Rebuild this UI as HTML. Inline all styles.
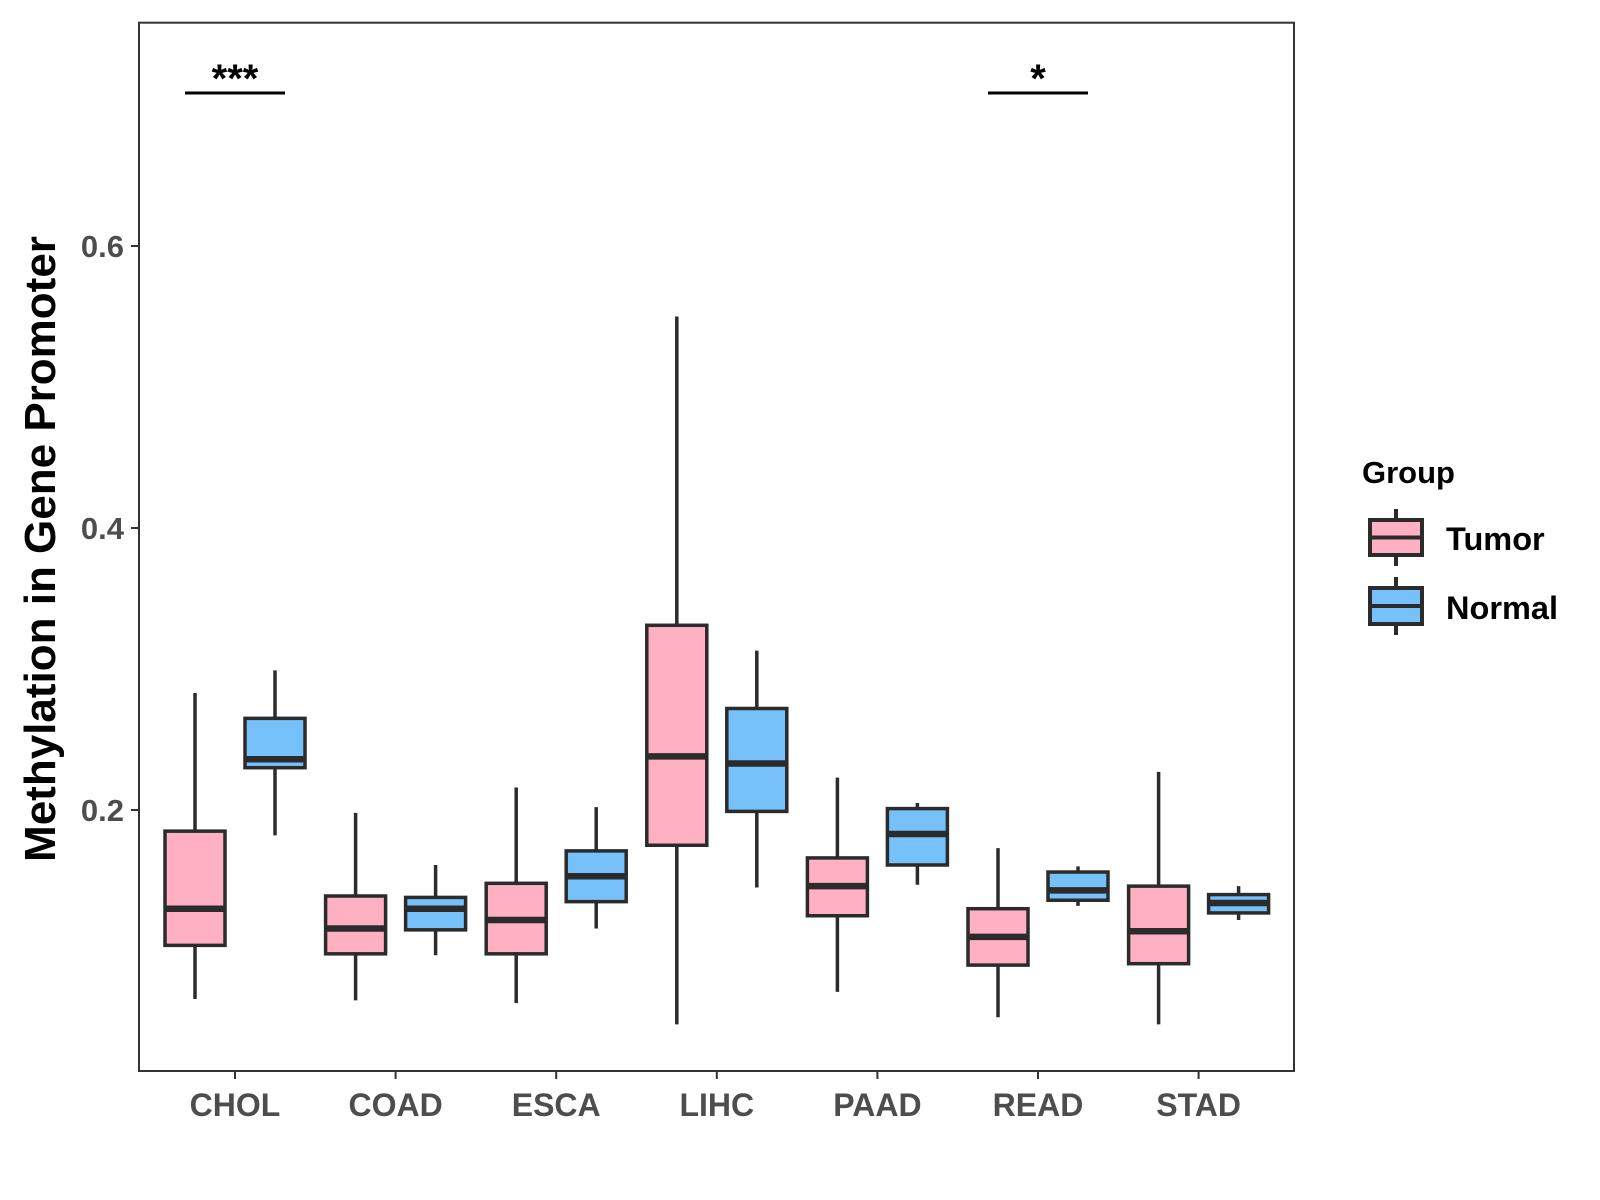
<!DOCTYPE html>
<html><head><meta charset="utf-8"><style>
html,body{margin:0;padding:0;background:#fff;}
svg{display:block;font-family:"Liberation Sans",Arial,sans-serif;font-weight:bold;}
</style></head><body>
<svg id="chart" width="1600" height="1200" viewBox="0 0 1600 1200">
<rect x="139" y="22.7" width="1155" height="1048.3" fill="#fff" stroke="#333" stroke-width="2"/>
<g id="marks"></g>
<text transform="translate(55,549) rotate(-90)" text-anchor="middle" font-size="44" fill="#000">Methylation in Gene Promoter</text>
<text x="1362" y="483" font-size="31" fill="#000">Group</text>
<g>
<line x1="1396" y1="509" x2="1396" y2="566" stroke="#2b2b2b" stroke-width="4"/>
<rect x="1370" y="520" width="52" height="35" fill="#FFB0C2" stroke="#2b2b2b" stroke-width="4"/>
<line x1="1370" y1="537.5" x2="1422" y2="537.5" stroke="#2b2b2b" stroke-width="4"/>
<text x="1446" y="550" font-size="32.5" fill="#000">Tumor</text>
</g>
<g>
<line x1="1396" y1="577" x2="1396" y2="635" stroke="#2b2b2b" stroke-width="4"/>
<rect x="1370" y="588" width="52" height="36" fill="#76C1FA" stroke="#2b2b2b" stroke-width="4"/>
<line x1="1370" y1="606" x2="1422" y2="606" stroke="#2b2b2b" stroke-width="4"/>
<text x="1446" y="619" font-size="32.5" fill="#000">Normal</text>
</g>
</svg>
<script>
const categories=["CHOL","COAD","ESCA","LIHC","PAAD","READ","STAD"];
// [whiskerLow, q1, median, q3, whiskerHigh]
const tumorStats=[[0.066,0.104,0.130,0.185,0.283],[0.065,0.098,0.116,0.139,0.198],[0.063,0.098,0.122,0.148,0.216],[0.048,0.175,0.238,0.331,0.550],[0.071,0.125,0.146,0.166,0.223],[0.053,0.090,0.110,0.130,0.173],[0.048,0.091,0.114,0.146,0.227]];
const normalStats=[[0.182,0.230,0.236,0.265,0.299],[0.097,0.115,0.130,0.138,0.161],[0.116,0.135,0.153,0.171,0.202],[0.145,0.199,0.233,0.272,0.313],[0.147,0.161,0.183,0.201,0.205],[0.132,0.136,0.143,0.156,0.160],[0.122,0.127,0.134,0.140,0.146]];
const yTicks=[0.2,0.4,0.6];
const sigCategories=["CHOL","READ"];
const sigLabels=["***","*"];
const NS="http://www.w3.org/2000/svg";
const g=document.getElementById('marks');
function yScale(v){return 810-(v-0.2)*1410;}
function xScale(i){return 235+i*160.6;}
function mk(tag,attrs,parent){const e=document.createElementNS(NS,tag);for(const k in attrs)e.setAttribute(k,attrs[k]);(parent||g).appendChild(e);return e;}
yTicks.forEach(t=>{
  const y=yScale(t);
  const tk=mk('line',{x1:131,x2:139,y1:y,y2:y,stroke:'#333','stroke-width':2});
  
  
  const tx=mk('text',{x:124,y:y+11,'text-anchor':'end','font-size':31,fill:'#4d4d4d'});
  tx.textContent=t.toFixed(1);
  
  
});
categories.forEach((c,i)=>{
  const x=xScale(i);
  const tk=mk('line',{x1:x,x2:x,y1:1071,y2:1079,stroke:'#333','stroke-width':2});
  
  
  const tx=mk('text',{x:x,y:1116,'text-anchor':'middle','font-size':32,fill:'#4d4d4d'});
  tx.textContent=c;
  
  
  [[tumorStats[i],-40,'#FFB0C2','tumor'],[normalStats[i],40,'#76C1FA','normal']].forEach(([s,off,fill,nm])=>{
    const cx=x+off;
    const bg=mk('g',{});
    
    
    mk('line',{x1:cx,x2:cx,y1:yScale(s[0]),y2:yScale(s[4]),stroke:'#2b2b2b','stroke-width':3.5},bg);
    mk('rect',{x:cx-30,y:yScale(s[3]),width:60,height:yScale(s[1])-yScale(s[3]),fill:fill,stroke:'#2b2b2b','stroke-width':3.5},bg);
    mk('line',{x1:cx-30,x2:cx+30,y1:yScale(s[2]),y2:yScale(s[2]),stroke:'#2b2b2b','stroke-width':6.5},bg);
  });
});
sigCategories.forEach((c,k)=>{
  const x=xScale(categories.indexOf(c));
  const sg=mk('g',{});
  
  
  mk('line',{x1:x-50,x2:x+50,y1:93,y2:93,stroke:'#000','stroke-width':3},sg);
  const t=mk('text',{x:x,y:92,'text-anchor':'middle','font-size':40,fill:'#000'},sg);
  t.textContent=sigLabels[k];
});
</script>
</body></html>
